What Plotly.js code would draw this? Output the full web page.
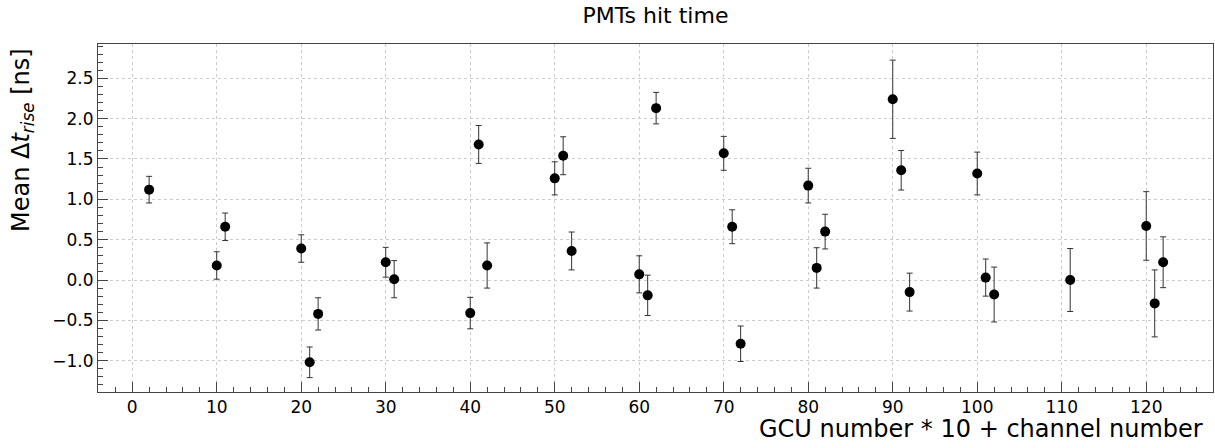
<!DOCTYPE html>
<html>
<head>
<meta charset="utf-8">
<script src="https://cdn.plot.ly/plotly-3.0.1.min.js"></script>
<style>html,body{margin:0;padding:0;background:#fff;}#chart{width:1215px;height:448px;}</style>
</head>
<body>
<div id="chart"></div>
<script>
const channel = [2, 10, 11, 20, 21, 22, 30, 31, 40, 41, 42, 50, 51, 52, 60, 61, 62, 70, 71, 72, 80, 81, 82, 90, 91, 92, 100, 101, 102, 111, 120, 121, 122];
const meanRise = [1.12, 0.18, 0.66, 0.39, -1.02, -0.42, 0.22, 0.01, -0.41, 1.68, 0.18, 1.26, 1.54, 0.36, 0.07, -0.19, 2.13, 1.57, 0.66, -0.79, 1.17, 0.15, 0.60, 2.24, 1.36, -0.15, 1.32, 0.03, -0.18, 0.00, 0.67, -0.29, 0.22];
const riseErr = [0.165, 0.17, 0.17, 0.17, 0.19, 0.2, 0.185, 0.23, 0.195, 0.235, 0.28, 0.205, 0.235, 0.235, 0.23, 0.25, 0.195, 0.21, 0.21, 0.22, 0.215, 0.25, 0.215, 0.485, 0.245, 0.235, 0.265, 0.23, 0.34, 0.39, 0.425, 0.415, 0.315];

const chartTitle = 'PMTs hit time';
const xLabel = 'GCU number * 10 + channel number';
const yLabel = 'Mean Δ<i>t</i><sub><i>rise</i></sub> [ns]';

const fontFam = 'DejaVu Sans, sans-serif';
const trace = {
  x: channel,
  y: meanRise,
  type: 'scatter',
  mode: 'markers',
  marker: {color: '#000', size: 10},
  error_y: {type: 'data', array: riseErr, visible: true, color: '#333', thickness: 1, width: 3},
  showlegend: false,
  hoverinfo: 'x+y'
};

const layout = {
  width: 1215, height: 448,
  margin: {l: 98, r: 2, t: 44, b: 56},
  paper_bgcolor: '#fff', plot_bgcolor: '#fff',
  font: {family: fontFam, color: '#000', size: 17},
  title: {text: chartTitle, font: {family: fontFam, size: 22, color: '#000'}, xref: 'paper', x: 0.5, xanchor: 'center', yref: 'container', y: 0.9665, yanchor: 'middle'},
  xaxis: {
    range: [-4.05, 127.9],
    tick0: 0, dtick: 10,
    ticks: 'inside', ticklen: 10, tickwidth: 1, tickcolor: '#444',
    minor: {dtick: 2, ticks: 'inside', ticklen: 5, tickcolor: '#444', showgrid: false},
    showline: true, linecolor: '#444', linewidth: 1, mirror: true,
    showgrid: true, gridcolor: '#cccccc', griddash: 'dot', gridwidth: 1,
    zeroline: false,
    tickfont: {family: fontFam, size: 17, color: '#000'}
  },
  yaxis: {
    range: [-1.388, 2.925],
    tick0: 0, dtick: 0.5,
    tickformat: '.1f',
    ticks: 'inside', ticklen: 10, tickwidth: 1, tickcolor: '#444',
    minor: {dtick: 0.1, ticks: 'inside', ticklen: 5, tickcolor: '#444', showgrid: false},
    showline: true, linecolor: '#444', linewidth: 1, mirror: true,
    showgrid: true, gridcolor: '#cccccc', griddash: 'dot', gridwidth: 1,
    zeroline: false,
    tickfont: {family: fontFam, size: 17, color: '#000'}
  },
  annotations: [{
    text: xLabel,
    xref: 'paper', yref: 'paper', x: 1, y: 0, xanchor: 'right', yanchor: 'middle',
    xshift: -8, yshift: -37, showarrow: false,
    font: {family: fontFam, size: 24, color: '#000'}
  }, {
    text: yLabel,
    textangle: -90,
    xref: 'paper', yref: 'paper', x: 0, y: 1, xanchor: 'center', yanchor: 'top',
    xshift: -76, yshift: -2, showarrow: false,
    font: {family: fontFam, size: 24, color: '#000'}
  }]
};

Plotly.newPlot('chart', [trace], layout, {displayModeBar: false, staticPlot: true});
</script>
</body>
</html>
